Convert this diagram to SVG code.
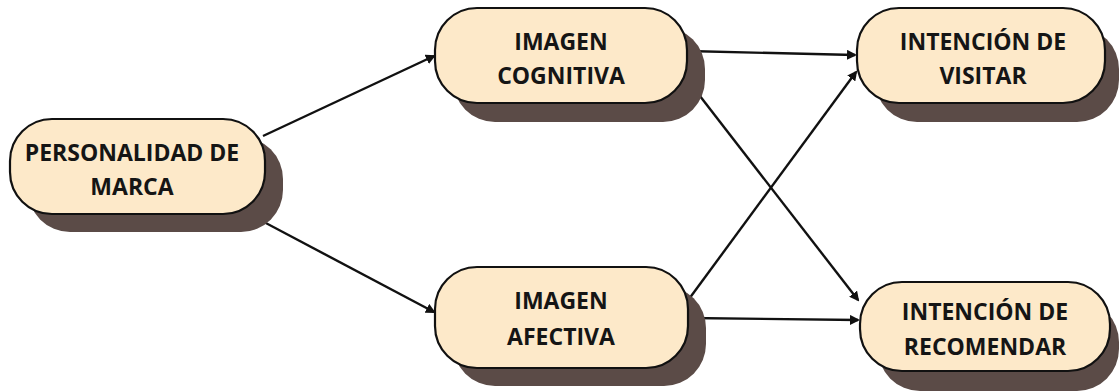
<svg xmlns="http://www.w3.org/2000/svg" width="1119" height="391" viewBox="0 0 1119 391">
<style>
.shadow{fill:#5b4b47}
.box{fill:#fde9c9;stroke:#111;stroke-width:2.2}
.t{font-family:"Open Sans","Liberation Sans",sans-serif;font-weight:bold;font-size:23px;fill:#151515;text-anchor:middle}
.c{stroke:#111;stroke-width:2.4;fill:none;marker-end:url(#ah)}
</style>
<defs>
<marker id="ah" markerWidth="10" markerHeight="10" refX="8" refY="5" orient="auto" markerUnits="userSpaceOnUse">
<path d="M0,0 L10,5 L0,10 z" fill="#111"/>
</marker>
</defs>
<rect width="1119" height="391" fill="#fff"/>
<g id="connectors">
<line class="c" x1="263" y1="136" x2="434" y2="56"/>
<line class="c" x1="245" y1="212" x2="434" y2="312"/>
<line class="c" x1="687" y1="51" x2="855" y2="55"/>
<line class="c" x1="686" y1="78" x2="858" y2="300"/>
<line class="c" x1="689" y1="299" x2="856" y2="72"/>
<line class="c" x1="688" y1="318" x2="858" y2="320"/>
</g>
<g id="personalidad">
<rect class="shadow" x="28" y="137" width="255" height="95" rx="42"/>
<rect class="box" x="10" y="119" width="255" height="95" rx="42"/>
<text class="t" x="132" y="161">PERSONALIDAD DE</text>
<text class="t" x="132" y="195">MARCA</text>
</g>
<g id="imagen-cognitiva">
<rect class="shadow" x="453" y="27" width="252" height="95" rx="42"/>
<rect class="box" x="435" y="8" width="252" height="95" rx="42"/>
<text class="t" x="561" y="50">IMAGEN</text>
<text class="t" x="561" y="84">COGNITIVA</text>
</g>
<g id="imagen-afectiva">
<rect class="shadow" x="453" y="286" width="253" height="100" rx="42"/>
<rect class="box" x="435" y="267" width="253" height="101" rx="42"/>
<text class="t" x="561" y="309">IMAGEN</text>
<text class="t" x="561" y="345">AFECTIVA</text>
</g>
<g id="intencion-visitar">
<rect class="shadow" x="875" y="27" width="244" height="95" rx="42"/>
<rect class="box" x="857" y="8" width="248" height="95" rx="42"/>
<text class="t" x="983" y="50">INTENCIÓN DE</text>
<text class="t" x="983" y="84">VISITAR</text>
</g>
<g id="intencion-recomendar">
<rect class="shadow" x="878" y="300" width="241" height="91" rx="42"/>
<rect class="box" x="860" y="282" width="250" height="89" rx="42"/>
<text class="t" x="985" y="320">INTENCIÓN DE</text>
<text class="t" x="985" y="355">RECOMENDAR</text>
</g>
</svg>
